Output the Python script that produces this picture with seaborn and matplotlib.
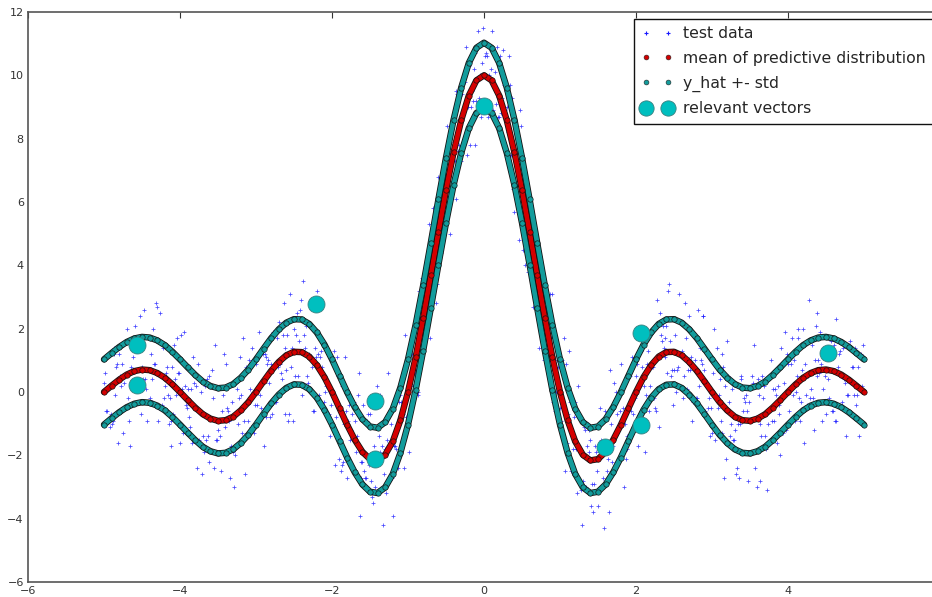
import numpy as np
import pandas as pd
import matplotlib
matplotlib.use("Agg")
import matplotlib.pyplot as plt
import matplotlib.patheffects as pe
from matplotlib.lines import Line2D
import seaborn as sns

# ---------------- data ----------------
curve_x = np.round(np.linspace(-5.0, 5.0, 101), 2)

mean_y = [0.00, 0.20, 0.39, 0.55, 0.66, 0.71, 0.69, 0.60, 0.45, 0.24,
          0.00, -0.25, -0.49, -0.70, -0.84, -0.91, -0.89, -0.78, -0.58, -0.32,
          0.00, 0.34, 0.67, 0.95, 1.16, 1.27, 1.26, 1.12, 0.85, 0.47,
          0.00, -0.52, -1.04, -1.51, -1.89, -2.12, -2.16, -1.98, -1.56, -0.89,
          0.00, 1.09, 2.34, 3.68, 5.05, 6.37, 7.57, 8.58, 9.36, 9.84,
          10.00,
          9.84, 9.36, 8.58, 7.57, 6.37, 5.05, 3.68, 2.34, 1.09, 0.00,
          -0.89, -1.56, -1.98, -2.16, -2.12, -1.89, -1.51, -1.04, -0.52, 0.00,
          0.47, 0.85, 1.12, 1.26, 1.27, 1.16, 0.95, 0.67, 0.34, 0.00,
          -0.32, -0.58, -0.78, -0.89, -0.91, -0.84, -0.70, -0.49, -0.25, 0.00,
          0.24, 0.45, 0.60, 0.69, 0.71, 0.66, 0.55, 0.39, 0.20, 0.00]

upper_y = [1.03, 1.23, 1.42, 1.58, 1.69, 1.74, 1.72, 1.63, 1.48, 1.27,
           1.03, 0.78, 0.54, 0.33, 0.19, 0.12, 0.14, 0.25, 0.45, 0.71,
           1.03, 1.37, 1.70, 1.98, 2.19, 2.30, 2.29, 2.15, 1.88, 1.50,
           1.03, 0.51, -0.01, -0.48, -0.86, -1.09, -1.13, -0.95, -0.53, 0.14,
           1.03, 2.12, 3.37, 4.71, 6.08, 7.40, 8.60, 9.61, 10.39, 10.87,
           11.03,
           10.87, 10.39, 9.61, 8.60, 7.40, 6.08, 4.71, 3.37, 2.12, 1.03,
           0.14, -0.53, -0.95, -1.13, -1.09, -0.86, -0.48, -0.01, 0.51, 1.03,
           1.50, 1.88, 2.15, 2.29, 2.30, 2.19, 1.98, 1.70, 1.37, 1.03,
           0.71, 0.45, 0.25, 0.14, 0.12, 0.19, 0.33, 0.54, 0.78, 1.03,
           1.27, 1.48, 1.63, 1.72, 1.74, 1.69, 1.58, 1.42, 1.23, 1.03]

lower_y = [-1.03, -0.83, -0.64, -0.48, -0.37, -0.32, -0.34, -0.43, -0.58, -0.79,
           -1.03, -1.28, -1.52, -1.73, -1.87, -1.94, -1.92, -1.81, -1.61, -1.35,
           -1.03, -0.69, -0.36, -0.08, 0.13, 0.24, 0.23, 0.09, -0.18, -0.56,
           -1.03, -1.55, -2.07, -2.54, -2.92, -3.15, -3.19, -3.01, -2.59, -1.92,
           -1.03, 0.06, 1.31, 2.65, 4.02, 5.34, 6.54, 7.55, 8.33, 8.81,
           8.97,
           8.81, 8.33, 7.55, 6.54, 5.34, 4.02, 2.65, 1.31, 0.06, -1.03,
           -1.92, -2.59, -3.01, -3.19, -3.15, -2.92, -2.54, -2.07, -1.55, -1.03,
           -0.56, -0.18, 0.09, 0.23, 0.24, 0.13, -0.08, -0.36, -0.69, -1.03,
           -1.35, -1.61, -1.81, -1.92, -1.94, -1.87, -1.73, -1.52, -1.28, -1.03,
           -0.79, -0.58, -0.43, -0.34, -0.32, -0.37, -0.48, -0.64, -0.83, -1.03]

# test data: eight interleaved sample columns (x step 0.1 each)
test_x_start = [-5.0, -4.9875, -4.975, -4.9625, -4.95, -4.9375, -4.925, -4.9125]

test_y_a = [0.3, -1.0, 1.2, 2.0, 0.3, 0.8, -0.2, 2.7, 0.2, 0.8,
            -1.6, 0.1, 0.6, -1.4, -0.8, -1.2, 0.9, -1.9, -0.1, -0.9,
            0.9, -1.7, 0.9, 2.2, 0.7, 2.0, -0.1, 1.2, 3.2, -0.3,
            -0.1, 0.5, -2.7, -0.9, -2.2, -0.7, -3.1, -1.8, -3.9, -0.1,
            1.2, 0.7, 2.8, 2.7, 6.8, 6.2, 7.9, 7.3, 10.3, 9.2,
            10.0, 11.4, 8.7, 9.0, 5.7, 7.5, 5.0, 4.3, 1.1, 3.1,
            -0.5, -0.7, -0.3, -2.8, -1.5, -3.6, -1.6, -1.7, 0.9, -1.6,
            0.5, 0.2, 1.9, -1.1, 2.1, 0.7, 1.3, 2.4, -0.2, 0.7,
            -1.3, 0.4, 1.6, -1.2, -0.9, -1.9, 0.4, -1.4, 0.1, -2.0,
            0.9, 0.0, 2.0, 0.1, 1.0, -0.7, 1.5, 0.5, 1.5, -0.4]

test_y_e = [0.6, -0.9, 0.5, -0.2, 2.1, 0.4, 1.2, -0.9, 0.6, -0.7,
            1.8, -0.8, 0.2, -1.9, 0.2, -0.9, -0.5, -3.0, -1.3, 1.0,
            -0.4, 1.2, -0.7, 0.9, 1.8, 0.5, 3.5, 0.1, 1.2, 0.0,
            1.0, -2.5, -0.9, -1.9, -0.4, -2.8, -1.4, -3.2, -1.7, -0.3,
            -1.9, 2.5, 1.9, 4.0, 4.1, 8.4, 7.3, 9.4, 7.8, 9.9,
            10.6, 8.9, 10.6, 8.2, 7.6, 4.5, 5.9, 3.0, 2.6, -0.3,
            -0.9, 1.3, -1.8, -1.1, -3.6, -1.8, -2.5, 0.3, -2.0, -0.4,
            0.9, -1.9, 0.8, 2.5, 0.6, 1.8, -0.2, 0.7, 2.6, -0.6,
            0.6, -0.9, 0.5, -2.6, -0.6, -0.9, -0.1, -1.8, -0.9, 1.4,
            -0.6, 0.5, -1.6, 1.5, 0.6, 1.1, -0.9, -0.3, 1.6, -0.1]

test_y_b = [-0.6, 1.2, 0.2, -0.9, 1.3, 2.6, 0.4, -0.5, 0.8, 1.5,
            0.1, -1.1, -2.4, 0.2, 0.7, -1.4, -0.8, -2.0, 1.7, 0.1,
            -0.9, 1.1, 1.9, 0.6, -0.9, 1.8, 1.2, 2.8, -0.1, 0.2,
            1.3, -2.3, -0.4, -1.4, -2.5, -3.3, -0.1, -1.5, -1.7, 0.4,
            -0.5, 0.0, 3.3, 5.8, 5.2, 7.6, 6.1, 8.9, 9.0, 11.4,
            10.7, 8.6, 8.8, 10.6, 6.4, 6.3, 5.7, 1.4, 2.5, 0.6,
            1.0, -1.1, -3.2, -1.2, -2.9, -0.5, -2.1, -2.4, -0.5, 0.5,
            -1.7, 1.9, 0.8, 1.8, 3.2, 0.0, 0.5, 1.1, 0.2, 1.3,
            2.0, -1.3, -0.3, -2.4, -0.2, 0.5, -1.0, -3.1, 0.1, -0.1,
            -1.0, 2.0, 0.9, -0.2, 1.9, 0.4, -0.9, 1.4, 0.3, 0.8]

test_y_f = [-0.6, 1.4, 0.9, -1.7, 1.6, 0.4, -0.3, 2.5, -0.1, 0.4,
            -1.3, -0.3, 0.9, -1.5, -0.2, -2.5, -0.6, 0.3, -0.9, -1.1,
            1.9, -0.8, 0.9, 0.4, -0.7, 2.5, 1.8, 0.8, 1.1, -0.7,
            -2.3, 0.2, -1.5, -0.1, -2.7, -3.5, -1.9, 0.6, -1.8, -0.7,
            1.5, -0.1, 2.4, 5.0, 4.4, 7.1, 9.5, 8.0, 9.5, 9.3,
            10.6, 8.7, 9.3, 9.7, 6.5, 4.0, 4.8, 4.3, 1.5, -0.6,
            -0.5, -0.3, 0.2, -3.0, -3.8, -1.5, -1.9, 0.0, -3.0, -0.6,
            1.2, -0.1, -0.2, 1.6, 3.4, 0.7, 1.1, -0.9, 1.4, 0.3,
            -1.5, 1.2, -1.4, -1.0, -0.3, 0.3, -2.8, -1.0, -0.1, -1.3,
            0.9, 1.7, -0.1, -1.2, 0.9, -0.2, 2.3, 0.4, 0.8, -1.4]

test_y_c = [1.2, -0.1, -1.3, 0.8, 1.6, 0.1, 2.0, 0.5, -1.0, -0.1,
            1.9, 0.1, -1.5, 0.4, -2.4, -0.6, -0.9, 0.1, -2.6, 1.4,
            -0.1, 0.9, -0.3, 1.8, 3.1, 0.5, 1.4, -0.6, 1.3, 1.2,
            -0.8, -2.2, -1.2, 0.6, -2.7, -1.7, -1.0, -2.8, -1.2, -2.4,
            1.2, 3.2, 2.7, 3.5, 5.9, 5.0, 9.4, 9.8, 9.2, 10.0,
            8.7, 10.1, 10.8, 7.5, 7.3, 5.6, 2.7, 4.0, 2.4, 0.0,
            1.7, -2.5, -1.8, -1.7, -2.9, -0.9, -3.8, -0.7, -1.0, 1.1,
            -0.7, 0.9, -0.5, 2.1, 1.6, 0.8, 2.8, -0.3, 1.0, -0.5,
            -0.1, 0.8, -1.0, -2.7, -0.1, 1.5, -1.4, -0.6, -1.6, 0.3,
            1.7, -0.2, -0.4, 1.0, -0.9, 1.4, 1.6, 0.3, 0.8, -0.9]

test_y_g = [-0.9, 0.8, 0.3, 1.6, 1.4, -0.9, 0.9, -0.4, -0.2, 1.7,
            0.2, -1.6, -0.6, -1.4, 1.5, -0.1, -2.7, -1.0, 0.8, 0.0,
            -0.5, 1.0, -0.3, 2.8, 0.8, 1.6, 2.1, -0.6, 0.8, -0.7,
            1.1, -1.0, -0.7, -3.9, -0.9, -3.0, -1.7, -1.7, -2.4, 1.8,
            0.2, 2.6, 4.2, 2.8, 5.8, 7.4, 7.6, 10.9, 10.2, 8.7,
            10.0, 9.1, 9.7, 9.3, 4.8, 5.8, 3.3, 2.5, 3.1, 1.0,
            -2.5, -1.3, -2.8, -1.0, -1.7, -2.7, 0.7, -1.1, -2.1, -0.7,
            1.3, 1.3, -0.6, 1.4, 0.5, 3.1, 1.7, -0.3, 0.9, -0.2,
            1.4, -2.7, 0.1, -1.0, -0.6, -2.4, 0.5, -1.5, 0.2, 1.9,
            -0.1, -0.9, 0.5, 2.1, 0.1, 1.6, 0.8, -1.4, -0.1, 1.2]

test_y_d = [-1.1, 0.9, 0.5, 0.1, 2.4, -0.3, 0.9, 1.4, -1.7, 0.6,
            -0.4, 1.1, 0.0, -2.2, -1.5, 1.2, -1.7, -0.2, -0.3, -1.3,
            1.4, 0.3, 1.7, -0.7, 1.4, 2.6, 0.5, 1.4, 0.5, -1.4,
            0.5, 1.1, -2.5, -2.2, -0.7, -2.2, -4.2, -1.0, 0.1, -0.8,
            1.1, 1.2, 5.3, 3.4, 6.6, 7.5, 7.8, 7.5, 10.7, 10.4,
            9.0, 10.9, 8.9, 7.5, 8.9, 3.8, 4.8, 2.5, 0.4, 0.8,
            0.9, -1.8, -3.1, -1.2, -1.9, -4.3, -1.0, -0.1, -1.4, -0.1,
            0.8, -0.6, 2.9, 1.1, 0.7, 2.2, 0.1, 1.0, 2.4, -1.4,
            -0.5, 0.2, -1.5, 0.4, -2.8, -0.8, -0.2, 1.0, -0.7, -1.2,
            1.0, -0.3, 2.9, 0.5, 1.1, -0.6, 1.2, -0.1, 1.4, 0.2]

test_y_h = [-0.7, -1.6, 1.6, 1.1, -0.7, 0.7, 2.8, -0.2, -0.9, 0.6,
            -0.5, 0.3, -2.6, 0.5, -1.5, -1.1, -0.3, 1.1, -1.3, -0.4,
            1.2, -0.8, 0.8, 1.4, -0.9, 2.9, 0.3, 1.1, 1.5, -0.4,
            -2.1, -0.6, -0.3, -2.7, -2.3, 0.2, -2.6, -2.7, -0.3, -0.1,
            0.6, 3.6, 1.7, 5.0, 6.8, 6.4, 9.4, 9.0, 7.8, 11.5,
            10.2, 8.7, 9.5, 6.4, 8.4, 5.1, 3.4, 1.0, 1.7, 1.2,
            -1.6, -0.8, -4.2, -1.9, -2.5, -0.6, -2.2, -0.6, -1.8, -0.2,
            1.7, 0.2, 1.1, 1.7, -0.4, 2.2, 0.7, -0.2, 2.4, -0.5,
            -0.1, -2.1, -1.5, 0.5, -0.3, -3.0, 0.2, -0.9, -0.4, 1.2,
            -0.9, 0.7, -0.2, 2.5, 0.5, -0.6, 1.3, -0.1, 0.3, 1.5]

test_y_series = [test_y_a, test_y_e, test_y_b, test_y_f,
                 test_y_c, test_y_g, test_y_d, test_y_h]

rv_x = [-4.57, -4.57, -2.21, -1.43, -1.43, 0.00, 1.59, 2.07, 2.07, 4.52]
rv_y = [1.49, 0.22, 2.78, -0.28, -2.12, 9.04, -1.73, 1.85, -1.04, 1.24]

x_ticks = [-6, -4, -2, 0, 2, 4]
y_ticks = [-6, -4, -2, 0, 2, 4, 6, 8, 10, 12]

legend_labels = ["test data", "mean of predictive distribution",
                 "y_hat +- std", "relevant vectors"]

# ---------------- styling ----------------
sns.set_style("white")
plt.rcParams["font.family"] = ["DejaVu Sans"]
plt.rcParams["axes.unicode_minus"] = True

MEAN_FACE = "#d40000"
STD_FACE = "#139c9c"
RV_FACE = "#00bfbf"
TEST_COLOR = "#1a1aff"

fig = plt.figure(figsize=(9.32, 5.97), dpi=100)
ax = fig.add_axes([28 / 932, 15 / 597, (940 - 28) / 932, (582 - 12) / 597])

xs, ys = [], []
for start, yvals in zip(test_x_start, test_y_series):
    xs.append(np.round(start + 0.1 * np.arange(len(yvals)), 4))
    ys.append(np.asarray(yvals))
test_df = pd.DataFrame({"x": np.concatenate(xs), "y": np.concatenate(ys)})
curve_df = pd.DataFrame({"x": curve_x, "mean": mean_y,
                         "upper": upper_y, "lower": lower_y})
rv_df = pd.DataFrame({"x": rv_x, "y": rv_y})

# test data
sns.scatterplot(data=test_df, x="x", y="y", marker="+", s=10,
                color=TEST_COLOR, edgecolor=TEST_COLOR, linewidth=0.55,
                alpha=0.8, ax=ax, zorder=2, legend=False)


def bead_curve(col, face):
    sns.lineplot(data=curve_df, x="x", y=col, sort=False, estimator=None,
                 color=face, linewidth=3.4, ax=ax, zorder=3, legend=False,
                 path_effects=[pe.Stroke(linewidth=4.6, foreground="#111111"),
                               pe.Normal()])
    sns.scatterplot(data=curve_df, x="x", y=col, marker="o", s=15,
                    color=face, edgecolor="#111111", linewidth=0.45,
                    ax=ax, zorder=4, legend=False)


bead_curve("mean", MEAN_FACE)
bead_curve("upper", STD_FACE)
bead_curve("lower", STD_FACE)

# relevant vectors
sns.scatterplot(data=rv_df, x="x", y="y", marker="o", s=150,
                color=RV_FACE, edgecolor="#3a8080", linewidth=0.6,
                ax=ax, zorder=5, legend=False)

ax.set_xlim(-6, 6)
ax.set_ylim(-6, 12)
ax.set_xticks(x_ticks)
ax.set_yticks(y_ticks)
ax.set_xlabel("")
ax.set_ylabel("")
ax.tick_params(direction="in", length=4, width=0.8, top=True, right=True,
               labelsize=8, colors="#333333", pad=3)
for sp in ax.spines.values():
    sp.set_visible(True)
    sp.set_color("#555555")
    sp.set_linewidth(1.2)

handles = [
    Line2D([], [], linestyle="none", marker="+", markersize=3.5,
           markeredgewidth=0.8, color=TEST_COLOR),
    Line2D([], [], linestyle="none", marker="o", markersize=3.5,
           markerfacecolor=MEAN_FACE, markeredgecolor="#222222",
           markeredgewidth=0.4),
    Line2D([], [], linestyle="none", marker="o", markersize=3.5,
           markerfacecolor=STD_FACE, markeredgecolor="#222222",
           markeredgewidth=0.4),
    Line2D([], [], linestyle="none", marker="o", markersize=11,
           markerfacecolor=RV_FACE, markeredgecolor="#3a8080",
           markeredgewidth=0.6),
]
leg = ax.legend(handles, legend_labels, loc="upper right",
                bbox_to_anchor=((933 - 28) / 912, (582 - 19) / 570),
                borderaxespad=0.0, numpoints=2,
                fontsize=11.3, frameon=True, fancybox=False, shadow=False,
                handlelength=2.0, handletextpad=0.67,
                labelspacing=0.62, borderpad=0.45)
leg.get_frame().set_edgecolor("#111111")
leg.get_frame().set_linewidth(1.0)
leg.get_frame().set_alpha(1.0)

fig.savefig("out.png", dpi=100)
